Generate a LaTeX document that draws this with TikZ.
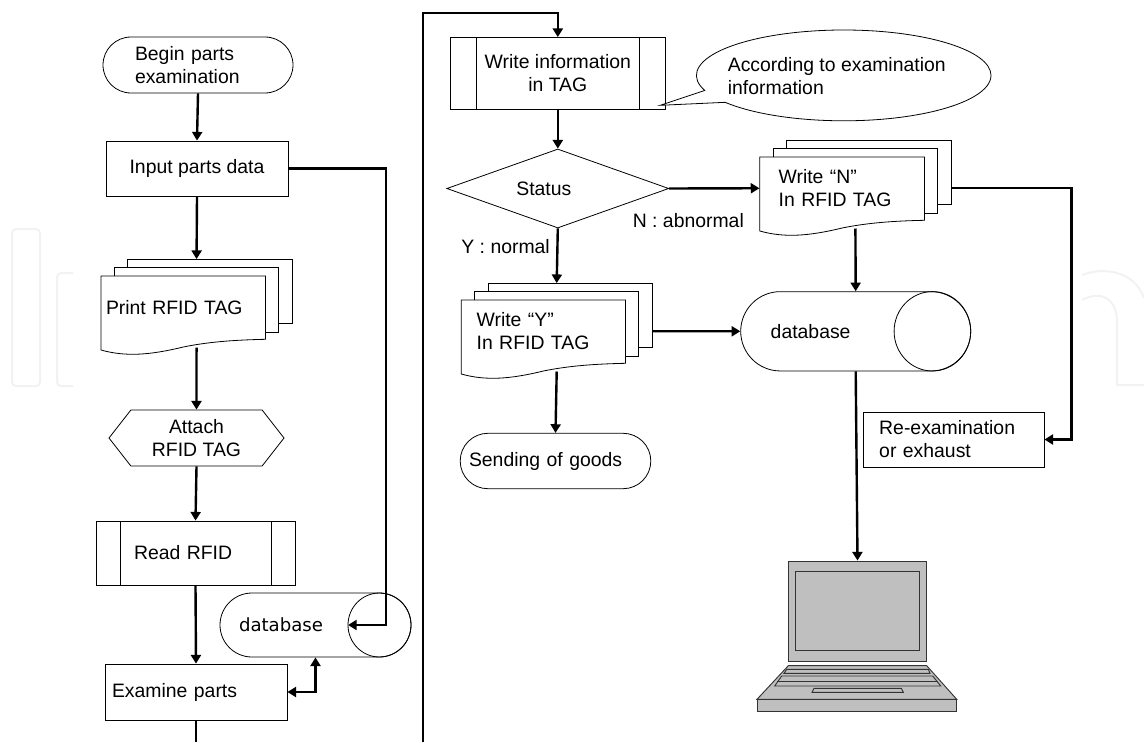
\documentclass[tikz,border=0pt]{standalone}
\usepackage{fontspec}
\setmainfont{Liberation Sans}
\newfontfamily\dbfont{DejaVu Sans}
\usetikzlibrary{arrows.meta,shapes.geometric,shapes.symbols,shapes.callouts}
\newcommand{\pxu}{0.75}
\newcommand{\sheetstack}[7]{
  \begin{scope}[shift={(#2,#3)}]
    \draw[sheet] ({2*#5},-16.5) rectangle ({#4+2*#5},47.5);
    \draw[sheet] (#5,-8.5) rectangle ({#4+#5},56);
    \draw[sheet] (0,0) -- (#4,0) -- (#4,63.3) .. controls ({.8*#4},64) and ({.65*#4},66) .. ({.5*#4},71)
      .. controls ({.3*#4},79) and ({.15*#4},81) .. (0,74) -- cycle;
    \node[sized={#4+2*#5}{95.5},inset={#6}{#4+2*#5}] (#1) at ({#4/2+#5},31.25) {#7};
    \coordinate (#1foot) at ({#4/2+#5},71.5);
  \end{scope}
}
\begin{document}
\begin{tikzpicture}[x=0.75pt,y=-0.75pt,>={Triangle[width=7.5pt,length=6.5pt]},
    font=\fontsize{14.55}{17.25}\selectfont,line width=0.6pt,
    sized/.style 2 args={minimum width=(#1)*\pxu pt,minimum height=(#2)*\pxu pt,inner sep=0pt},
    inset/.style 2 args={align=left,inner xsep=(#1)*\pxu pt,inner ysep=0pt,text width=((#2)-2*(#1))*\pxu pt},
    flowbox/.style={draw,fill=white,shape=rectangle,align=center},
    pill/.style={flowbox,rounded corners=#1*\pxu pt},
    subproc/.style={flowbox,path picture={
      \draw ([xshift=#1*\pxu pt]path picture bounding box.north west) -- ([xshift=#1*\pxu pt]path picture bounding box.south west);
      \draw ([xshift=-#1*\pxu pt]path picture bounding box.north east) -- ([xshift=-#1*\pxu pt]path picture bounding box.south east);}},
    sheet/.style={draw,fill=white},
    flowline/.style={line width=1.8pt},
    wmark/.style={draw=black!5,line width=1.5pt},
    lap/.style={draw=black!80,fill=black!25,line width=0.7pt}]
  \useasboundingbox (0,0) rectangle (1144,742);
  \draw[wmark,rounded corners=3pt] (12,229) rectangle (40,386);
  \draw[wmark,rounded corners=3pt] (73,273) -- (57,273) -- (57,386) -- (73,386);
  \draw[wmark] (1082,275) .. controls (1105,266) and (1135,272) .. (1144,298);
  \draw[wmark] (1082,300) .. controls (1100,290) and (1117,298) .. (1117,322) -- (1117,385) -- (1144,385);

  \node[pill=28,sized={190}{56},inset={32}{190}] (begin) at (198,65) {Begin parts\\examination};
  \node[flowbox,sized={182}{55}] (inputdata) at (197,168.5) {Input parts data};
  \sheetstack{printtag}{101}{276}{164.5}{13.3}{5}{Print RFID TAG}
  \node[draw,fill=white,shape=signal,signal to=west and east,signal pointer angle=104,sized={175}{56},align=center] (attach) at (196.5,438) {Attach\\RFID TAG};
  \node[subproc=24,sized={199}{64},inset={38}{199}] (readrfid) at (195.5,553) {Read RFID};
  \node[pill=32,sized={191}{64},inset={19}{191},font=\fontsize{13.6}{16}\dbfont] (dbone) at (315.5,625) {database};
  \draw (379.5,625) ellipse [x radius=31.5,y radius=32];
  \node[flowbox,sized={182}{56},inset={7}{182}] (examine) at (196,692) {Examine parts};

  \node[subproc=26,sized={214.4}{71.5}] (writeinfo) at (557.8,73.25) {Write information\\in TAG};
  \node[draw,fill=white,shape=ellipse callout,sized={294.6}{90.8},callout absolute pointer={(660.3,105.3)},callout pointer arc=17] (note) at (843.7,75.4) {};
  \node[align=left,anchor=west] (notetext) at (723,76) {According to examination\\information};
  \node[draw,fill=white,shape=diamond,aspect=2.8,sized={222}{79}] (status) at (557.8,188.5) {Status\hspace*{21pt}};
  \sheetstack{ntag}{759.8}{157}{164.6}{13.3}{18.8}{Write “N”\\In RFID TAG}
  \sheetstack{ytag}{461.3}{300}{164.2}{13.3}{15.3}{Write “Y”\\In RFID TAG}
  \node[pill=39.6,sized={230}{79.3},inset={30}{230}] (dbtwo) at (855.7,331.3) {database};
  \draw (932.4,331.3) ellipse [x radius=38.3,y radius=39.7];
  \node[pill=27.7,sized={190.6}{55.4},inset={8.8}{190.6}] (sending) at (555.5,461) {Sending of goods};
  \node[flowbox,sized={180.5}{55},inset={15.7}{180.5}] (reexam) at (953.75,439.5) {Re-examination\\or exhaust};
  \node[anchor=west,inner sep=0pt] (abnormal) at (632.4,221) {N : abnormal};
  \node[anchor=west,inner sep=0pt] (normal) at (461,247) {Y : normal};

  \node[lap,shape=rectangle,sized={138.4}{100}] (laptop) at (857.5,611) {};
  \draw[lap] (795.7,571.7) rectangle (919.7,650);
  \draw[lap] (788.3,665.7) -- (926.7,665.7) -- (956.7,699.3) -- (757,699.3) -- cycle;
  \draw[lap] (757,699.3) rectangle (956.7,711.5);
  \draw[lap] (786.7,669.3) -- (928.3,669.3) -- (930,673.3) -- (784,673.3) -- cycle;
  \draw[lap] (781.7,676) -- (932.7,676) -- (940.7,686) -- (774.7,686) -- cycle;
  \draw[lap] (777,681) -- (938,681);
  \draw[lap] (814,688.3) -- (901.3,688.3) -- (903.3,692.3) -- (812,692.3) -- cycle;

  \coordinate (dbonein) at (348,625);
  \coordinate (dbonebend) at (386,625);
  \coordinate (contbottom) at (423,742);
  \coordinate (conttop) at (423,13);
  \draw[flowline,->] (begin.south) -- (inputdata.north);
  \draw[flowline,->] (inputdata.south) -- (printtag.north);
  \draw[flowline,->] (printtagfoot) -- (attach.north);
  \draw[flowline,->] (attach.south) -- (readrfid.north);
  \draw[flowline,->] (readrfid.south) -- (examine.north);
  \draw[flowline,->] (inputdata.east) -| (dbonebend) -- (dbonein);
  \draw[flowline,<->] (examine.east) -| (dbone.south);
  \draw[flowline] (examine.south) -- (examine.south |- contbottom);
  \draw[flowline,->] (contbottom) -- (conttop) -| (writeinfo.north);
  \draw[flowline,->] (writeinfo.south) -- (status.north);
  \draw[flowline,->] (status.east) -- (ntag.west);
  \draw[flowline,->] (status.south) -- (ytag.north);
  \draw[flowline,->] (ntagfoot) -- (dbtwo.north);
  \draw[flowline,->] (ytag.east) -- (dbtwo.west);
  \draw[flowline,->] (ytagfoot) -- (sending.north);
  \draw[flowline,->] (ntag.east) -- ++(120.2,0) |- (reexam.east);
  \draw[flowline,->] (dbtwo.south) -- (laptop.north);
\end{tikzpicture}
\end{document}
